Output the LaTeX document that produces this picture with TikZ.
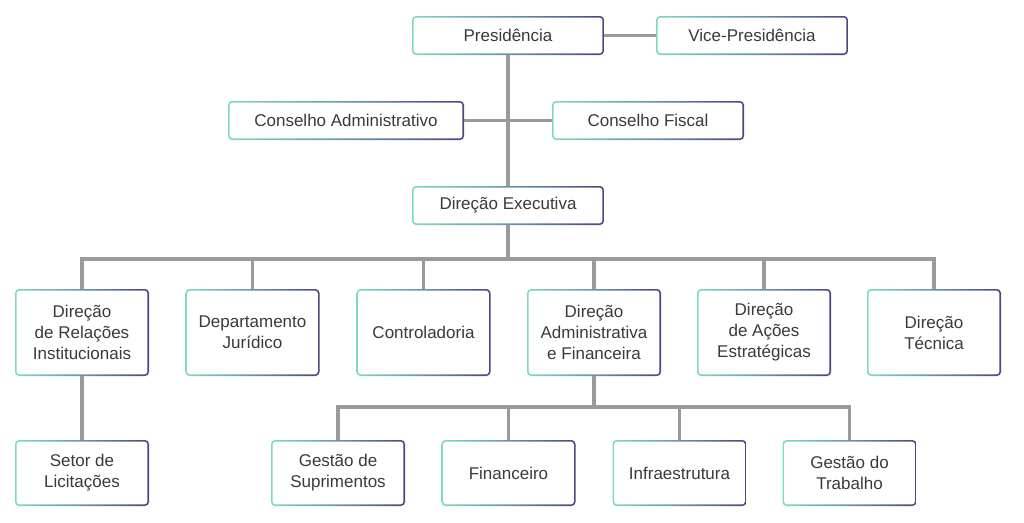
\documentclass[tikz,border=0pt]{standalone}
\usepackage{fontspec}
\setmainfont{Liberation Sans}
\usetikzlibrary{positioning}
\definecolor{boxteal}{HTML}{7FD8C6}
\definecolor{boxpurple}{HTML}{4B4681}
\definecolor{linegray}{HTML}{9A9A9A}
\definecolor{textgray}{HTML}{3A3A3A}
\tikzset{
  orgbox/.style={rounded corners=4pt, inner sep=2pt, align=center, text=textgray,
    font=\fontsize{17}{21}\selectfont,
    path picture={
      \shade[left color=boxteal, right color=boxpurple, middle color=boxteal!55!boxpurple]
        (path picture bounding box.south west) rectangle (path picture bounding box.north east);
      \fill[white, rounded corners=3pt]
        ([shift={(1.6pt,1.6pt)}]path picture bounding box.south west) rectangle
        ([shift={(-1.6pt,-1.6pt)}]path picture bounding box.north east);
    }},
  topbox/.style={orgbox, minimum width=192pt, minimum height=39pt},
  dirbox/.style={orgbox, minimum width=134pt, minimum height=87pt},
  subbox/.style={orgbox, minimum width=134pt, minimum height=66pt},
  link/.style={draw=linegray, line width=3.5pt}
}

\begin{document}
\begin{tikzpicture}[x=1pt, y=-1pt]
\useasboundingbox (0,0) rectangle (1024,522);
% top
\node[topbox] (pres) at (508,35.5) {Presidência};
\node[topbox] (vice) at (752,35.5) {Vice-Presidência};
\node[topbox, minimum width=236pt] (consadm) at (346,120.5) {Conselho Administrativo};
\node[topbox] (consfis) at (648,120.5) {Conselho Fiscal};
\node[topbox] (direx) at (508,205.5) {Direção Executiva};
% directorates
\node[dirbox] (dri) at (82,332.5) {Direção\\de Relações\\Institucionais};
\node[dirbox] (djur) at (252.5,332.5) {Departamento\\Jurídico};
\node[dirbox] (contr) at (423.5,332.5) {Controladoria};
\node[dirbox] (dadm) at (594,332.5) {Direção\\Administrativa\\e Financeira};
\node[dirbox] (dacoes) at (764,332.5) {Direção\\de Ações\\Estratégicas};
\node[dirbox] (dtec) at (934,332.5) {Direção\\Técnica};
% sectors
\node[subbox] (lic) at (82,473) {Setor de\\Licitações};
\node[subbox] (sup) at (338,473) {Gestão de\\Suprimentos};
\node[subbox] (fin) at (508.5,473) {Financeiro};
\node[subbox] (infra) at (679.5,473) {Infraestrutura};
\node[subbox] (trab) at (849.5,473) {Gestão do\\Trabalho};
\coordinate (busa) at (508,259);
\coordinate (busb) at (594,407);
% links
\draw[link] (pres) -- (vice);
\draw[link] (pres) -- (direx);
\draw[link] (consadm) -- (consfis);
\draw[link] (direx) -- (busa);
\draw[link] (dri) -- (dri |- busa) -- (dtec |- busa) -- (dtec); % main bus
\foreach \n in {djur,contr,dadm,dacoes} \draw[link] (\n) -- (\n |- busa);
\draw[link] (dri) -- (lic);
\draw[link] (dadm) -- (busb);
\draw[link] (sup) -- (sup |- busb) -- (trab |- busb) -- (trab); % second bus
\foreach \n in {fin,infra} \draw[link] (\n) -- (\n |- busb);
\end{tikzpicture}
\end{document}
